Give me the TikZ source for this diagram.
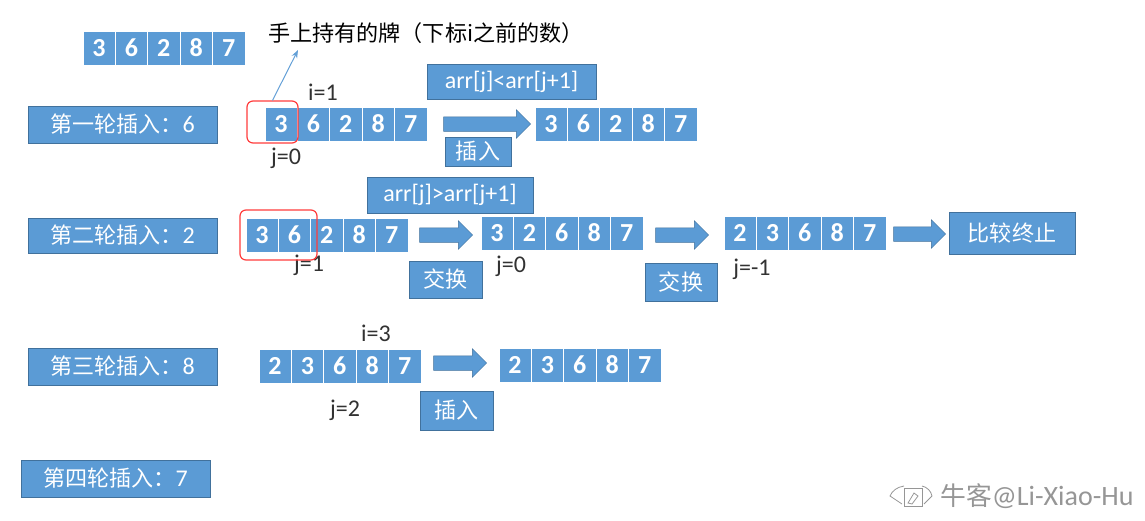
\documentclass[tikz,border=0pt]{standalone}
\usepackage{fontspec}
\setmainfont[Numbers=Lining]{Carlito}
\newfontfamily\cjk[Scale=0.92]{Noto Sans CJK SC}
\usetikzlibrary{arrows.meta,shapes.arrows}
\definecolor{Cell}{RGB}{91,155,213}
\definecolor{CellEdge}{RGB}{65,113,156}
\definecolor{Mark}{RGB}{255,60,60}
\definecolor{Hand}{RGB}{100,160,215}
\definecolor{Label}{RGB}{50,50,50}
\definecolor{Stamp}{RGB}{150,150,150}
\tikzset{
  cardbox/.style={fill=Cell,draw=white,line width=0.6pt,minimum width=32.4pt,minimum height=34pt,inner sep=0pt,text=white,font=\fontsize{26}{26}\selectfont\bfseries},
  stepbox/.style={fill=Cell,draw=CellEdge,line width=1pt,inner sep=0pt,text=white,font=\fontsize{24}{24}\selectfont},
  flowarrow/.style={single arrow,fill=Cell,draw=CellEdge,line width=0.5pt,text height=14pt,text depth=0pt,text width=0pt,minimum width=28pt,single arrow head extend=7pt,single arrow head indent=0pt,inner sep=0pt},
  markbox/.style={draw=Mark,line width=1.2pt,rounded corners=6pt,inner sep=0pt},
  tag/.style={text=Label,inner sep=0pt,font=\fontsize{24}{24}\selectfont},
}
% one row of five cards: name, left edge, centre y, values
\newcommand{\cardrow}[4]{
  \foreach \val [count=\k] in {#4} {
    \node[cardbox] (#1-\k) at ({#2+16+32.4*(\k-1)},#3) {\val};
  }
}
\begin{document}
\begin{tikzpicture}[x=1pt,y=-1pt]
\useasboundingbox (0,0) rectangle (1145,520);

% start
\cardrow{start}{83}{48}{3,6,2,8,7}
\node[tag,text=black,font=\fontsize{24}{24}\cjk] (hand) at (426,33) {手上持有的牌（下标i之前的数）};

% round 1
\node[stepbox,minimum width=189pt,minimum height=37pt] (round1) at (122.5,124.5) {{\cjk 第一轮插入：}6};
\cardrow{one}{265}{124}{3,6,2,8,7}
\cardrow{oneb}{535}{124}{3,6,2,8,7}
\node[flowarrow,minimum height=87pt] (go1) at (483.5,124) {};
\node[stepbox,minimum width=169pt,minimum height=35pt] (less) at (511.5,81.5) {arr[j]<arr[j+1]};
\node[stepbox,minimum width=66pt,minimum height=29pt] (ins1) at (478,151.5) {\cjk 插入};
\node[tag] (i1) at (323,92) {i=1};
\node[tag] (j1) at (286,158) {j=0};
\node[markbox,minimum width=51pt,minimum height=42pt] (mark1) at (272.5,122) {};
\coordinate (handtip) at (298,50);
\draw[Hand,line width=1pt,-{Stealth[length=8pt,width=6pt]}] (mark1.north) -- (handtip);

% round 2
\node[stepbox,minimum width=189pt,minimum height=35pt] (round2) at (122.5,235.5) {{\cjk 第二轮插入：}2};
\cardrow{two}{246}{235}{3,6,2,8,7}
\cardrow{twob}{481}{233}{3,2,6,8,7}
\cardrow{twoc}{724}{233}{2,3,6,8,7}
\node[flowarrow,minimum height=53pt] (go2) at (442.5,235) {};
\node[flowarrow,minimum height=53pt] (go3) at (678.5,235) {};
\node[flowarrow,minimum height=52pt] (go4) at (916,234) {};
\node[stepbox,minimum width=166pt,minimum height=36pt] (more) at (450,195) {arr[j]>arr[j+1]};
\node[stepbox,minimum width=73pt,minimum height=37pt] (swap1) at (445.5,279.5) {\cjk 交换};
\node[stepbox,minimum width=72pt,minimum height=38pt] (swap2) at (681,282) {\cjk 交换};
\node[stepbox,minimum width=126pt,minimum height=42pt] (stop) at (1012,233) {\cjk 比较终止};
\node[tag] (j2) at (309,265) {j=1};
\node[tag] (j3) at (511,266) {j=0};
\node[tag] (j4) at (752,269) {j=-1};
\node[markbox,minimum width=77pt,minimum height=50pt] (mark2) at (278.5,235) {};

% round 3
\node[stepbox,minimum width=189pt,minimum height=37pt] (round3) at (122.5,366.5) {{\cjk 第三轮插入：}8};
\cardrow{three}{259}{366}{2,3,6,8,7}
\cardrow{threeb}{499}{365}{2,3,6,8,7}
\node[flowarrow,minimum height=53pt] (go5) at (456.5,363) {};
\node[stepbox,minimum width=73pt,minimum height=39pt] (ins2) at (456.5,410.5) {\cjk 插入};
\node[tag] (i3) at (376,333) {i=3};
\node[tag] (j5) at (345,410) {j=2};

% round 4
\node[stepbox,minimum width=189pt,minimum height=37pt] (round4) at (115.5,478.5) {{\cjk 第四轮插入：}7};

% stamp
\draw[Stamp,line width=0.8pt] (904,488) -- (922,488) -- (922,506) -- (904,506) -- cycle;
\draw[Stamp,line width=0.8pt] (904,486) .. controls (897,487) and (892,491) .. (890,496) -- (902,504);
\draw[Stamp,line width=0.8pt] (922,486) .. controls (927,487) and (931,491) .. (932,496) -- (924,504);
\draw[Stamp,line width=0.8pt] (908,503) -- (914,493) -- (918,496) -- (912,504) -- cycle;
\node[text=Stamp,inner sep=0pt,font=\fontsize{28}{28}\selectfont] (stamp) at (1037,496) {{\cjk 牛客}@Li-Xiao-Hu};
\end{tikzpicture}
\end{document}
